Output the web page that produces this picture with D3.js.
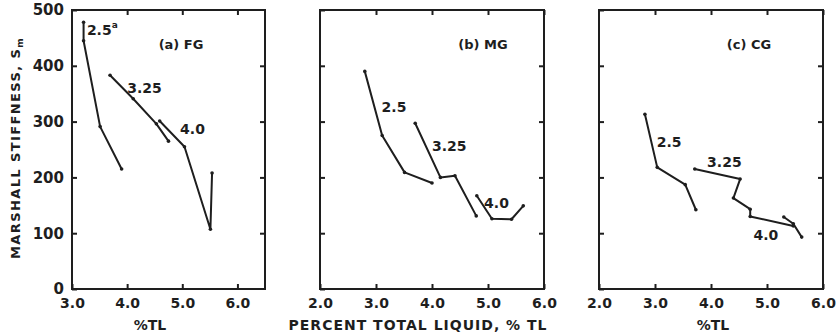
<!DOCTYPE html>
<html>
<head>
<meta charset="utf-8">
<script src="https://cdn.jsdelivr.net/npm/d3@7"></script>
<style>
  body { margin: 0; background: #fff; }
  text { font-family: "DejaVu Sans", sans-serif; font-weight: bold; fill: #1e1e1e; }
</style>
</head>
<body>
<div id="chart"></div>
<script>
// [%TL, Sm] per asphalt content curve
const yTicks = [0, 100, 200, 300, 400, 500];

const fg25 = [[3.21, 478], [3.21, 445], [3.51, 291], [3.90, 215]];
const fg325 = [[3.69, 383], [4.11, 341], [4.53, 296], [4.75, 265]];
const fg40 = [[4.59, 301], [5.04, 255], [5.51, 107], [5.54, 208]];

const mg25 = [[2.80, 390], [3.11, 275], [3.51, 209], [4.00, 190]];
const mg325 = [[3.70, 297], [4.15, 200], [4.41, 203], [4.79, 131]];
const mg40 = [[4.80, 167], [5.07, 126], [5.42, 125], [5.63, 149]];

const cg25 = [[2.82, 313], [3.04, 218], [3.54, 187], [3.73, 142]];
const cg325 = [[3.71, 215], [4.52, 197], [4.40, 163], [4.70, 143], [4.70, 130], [5.47, 113]];
const cg40 = [[5.30, 129], [5.47, 117], [5.62, 93]];

const panels = [
  { title: '(a) FG', domain: [3.0, 6.5], range: [72, 265], xTicks: [3.0, 4.0, 5.0, 6.0], yLabels: true,
    xTitle: '%TL', titleX: 181, xTitleX: 150, spacing: 0,
    curves: [
      { pts: fg25, label: '2.5', sup: 'a', at: [3.27, 455] },
      { pts: fg325, label: '3.25', at: [4.0, 352] },
      { pts: fg40, label: '4.0', at: [4.96, 278] }
    ] },
  { title: '(b) MG', domain: [2.0, 6.0], range: [320, 544], xTicks: [2.0, 3.0, 4.0, 5.0, 6.0], yLabels: false,
    xTitle: 'PERCENT TOTAL LIQUID, % TL', titleX: 483, xTitleX: 418, spacing: 1,
    curves: [
      { pts: mg25, label: '2.5', at: [3.1, 318] },
      { pts: mg325, label: '3.25', at: [4.0, 248] },
      { pts: mg40, label: '4.0', at: [4.93, 145] }
    ] },
  { title: '(c) CG', domain: [2.0, 6.0], range: [599, 823], xTicks: [2.0, 3.0, 4.0, 5.0, 6.0], yLabels: false,
    xTitle: '%TL', titleX: 749, xTitleX: 713, spacing: 0,
    curves: [
      { pts: cg25, label: '2.5', at: [3.03, 255] },
      { pts: cg325, label: '3.25', at: [3.93, 218] },
      { pts: cg40, label: '4.0', at: [4.76, 88] }
    ] }
];

const width = 838, height = 336;
const svg = d3.select('#chart').append('svg')
  .attr('width', width)
  .attr('height', height);

const y = d3.scaleLinear().domain([0, 500]).range([289, 10]);
const ink = '#1e1e1e';

panels.forEach(p => {
  const x = d3.scaleLinear().domain(p.domain).range(p.range);
  const g = svg.append('g');

  // inward ticks on all four sides
  const bottom = g.append('g').attr('transform', `translate(0,${y(0)})`)
    .call(d3.axisBottom(x).tickValues(p.xTicks).tickSize(-5).tickPadding(9).tickFormat(d3.format('.1f')));
  bottom.select('.domain').remove();
  bottom.selectAll('text').attr('font-size', 14).style('font-family', '"DejaVu Sans", sans-serif');

  const top = g.append('g').attr('transform', `translate(0,${y(500)})`)
    .call(d3.axisTop(x).tickValues(p.xTicks.slice(1)).tickSize(-5).tickFormat(''));
  top.select('.domain').remove();

  const left = g.append('g').attr('transform', `translate(${p.range[0]},0)`)
    .call(d3.axisLeft(y).tickValues(yTicks).tickSize(-5).tickPadding(8).tickFormat(p.yLabels ? d3.format('d') : ''));
  left.select('.domain').remove();
  left.selectAll('text').attr('font-size', 15).style('font-family', '"DejaVu Sans", sans-serif');

  const right = g.append('g').attr('transform', `translate(${p.range[1]},0)`)
    .call(d3.axisRight(y).tickValues(yTicks.slice(1, 5)).tickSize(-5).tickFormat(''));
  right.select('.domain').remove();

  g.selectAll('.tick line').attr('stroke', ink).attr('stroke-width', 2);

  // frame
  g.append('rect')
    .attr('x', p.range[0]).attr('y', y(500))
    .attr('width', p.range[1] - p.range[0]).attr('height', y(0) - y(500))
    .attr('fill', 'none').attr('stroke', ink).attr('stroke-width', 2);

  const line = d3.line().x(d => x(d[0])).y(d => y(d[1]));

  p.curves.forEach(c => {
    g.append('path').datum(c.pts)
      .attr('d', line)
      .attr('fill', 'none')
      .attr('stroke', ink)
      .attr('stroke-width', 2)
      .attr('stroke-linejoin', 'round');
    g.selectAll(null).data(c.pts).enter().append('circle')
      .attr('cx', d => x(d[0])).attr('cy', d => y(d[1]))
      .attr('r', 1.8).attr('fill', ink);
    const t = g.append('text')
      .attr('x', x(c.at[0])).attr('y', y(c.at[1]))
      .attr('font-size', 14)
      .text(c.label);
    if (c.sup) t.append('tspan').attr('font-size', 9).attr('dy', -7).text(c.sup);
  });

  g.append('text')
    .attr('x', p.titleX).attr('y', 49)
    .attr('text-anchor', 'middle')
    .attr('font-size', 13)
    .text(p.title);

  g.append('text')
    .attr('x', p.xTitleX).attr('y', 330)
    .attr('text-anchor', 'middle')
    .attr('font-size', 14)
    .attr('letter-spacing', p.spacing)
    .text(p.xTitle);
});

// y axis title
const yt = svg.append('text')
  .attr('transform', 'translate(20,148) rotate(-90)')
  .attr('text-anchor', 'middle')
  .attr('font-size', 13)
  .attr('letter-spacing', 1.4)
  .text('MARSHALL  STIFFNESS, S');
yt.append('tspan').attr('font-size', 9).attr('dy', 3).text('m');
</script>
</body>
</html>
